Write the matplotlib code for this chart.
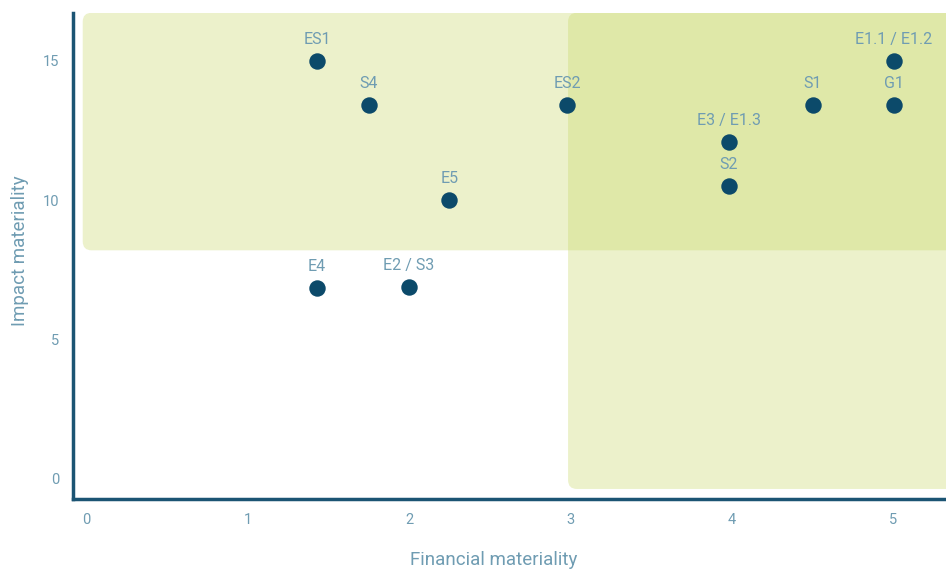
import matplotlib.pyplot as plt
from matplotlib.patches import FancyBboxPatch

plt.rcParams['font.family'] = ['Roboto', 'DejaVu Sans']

# materiality topics
topics = ['ES1', 'S4', 'ES2', 'E3 / E1.3', 'S2', 'S1', 'G1', 'E1.1 / E1.2', 'E5', 'E4', 'E2 / S3']
financial = [1.43, 1.75, 2.98, 3.98, 3.98, 4.5, 5.0, 5.0, 2.25, 1.43, 2.0]
impact = [15.0, 13.4, 13.4, 12.1, 10.5, 13.4, 13.4, 15.0, 10.0, 6.85, 6.9]

# thresholds for the shaded zones
impact_threshold = 8.2
financial_threshold = 2.985

dot_col = '#0c4a6a'
text_col = '#6f9cb2'
axis_col = '#1b5473'
zone_col = '#c4d65f'

fig = plt.figure(figsize=(9.46, 5.69), dpi=100)
ax = fig.add_axes([0.0772, 0.123, 0.9228, 0.855])
xmin, xmax = -0.08, 5.325
ymin, ymax = -0.72, 16.73
ax.set_xlim(xmin, xmax)
ax.set_ylim(ymin, ymax)

# rounded shaded zones (aspect corrected so the corners look round)
asp = (ymax - ymin) / 486.3 / ((xmax - xmin) / 873.0)
zones = [
    (-0.02, impact_threshold, 6.0, 16.72 - impact_threshold),
    (financial_threshold, -0.36, 6.0, 16.72 + 0.36),
]
for x0, y0, w, h in zones:
    ax.add_patch(FancyBboxPatch((x0, y0), w, h,
                                boxstyle='round,pad=0,rounding_size=0.055',
                                mutation_aspect=asp,
                                facecolor=zone_col, edgecolor='none',
                                alpha=0.32, zorder=1))

ax.scatter(financial, impact, s=140, color=dot_col, zorder=3, linewidths=0)
for name, fx, iy in zip(topics, financial, impact):
    ax.annotate(name, (fx, iy), xytext=(0, 10), textcoords='offset points',
                ha='center', va='bottom', fontsize=11.5, color=text_col, zorder=4)

for side in ['top', 'right']:
    ax.spines[side].set_visible(False)
for side in ['left', 'bottom']:
    ax.spines[side].set_color(axis_col)
    ax.spines[side].set_linewidth(2.5)

ax.set_xticks([0, 1, 2, 3, 4, 5])
ax.set_yticks([0, 5, 10, 15])
ax.tick_params(length=0, labelsize=10.5, labelcolor=text_col, pad=10)

ax.set_xlabel('Financial materiality', fontsize=13.5, color=text_col, va='center')
ax.xaxis.set_label_coords(0.482, -0.125)
ax.set_ylabel('Impact materiality', fontsize=13.5, color=text_col, va='center')
ax.yaxis.set_label_coords(-0.061, 0.51)

fig.savefig('out.png', dpi=100)
